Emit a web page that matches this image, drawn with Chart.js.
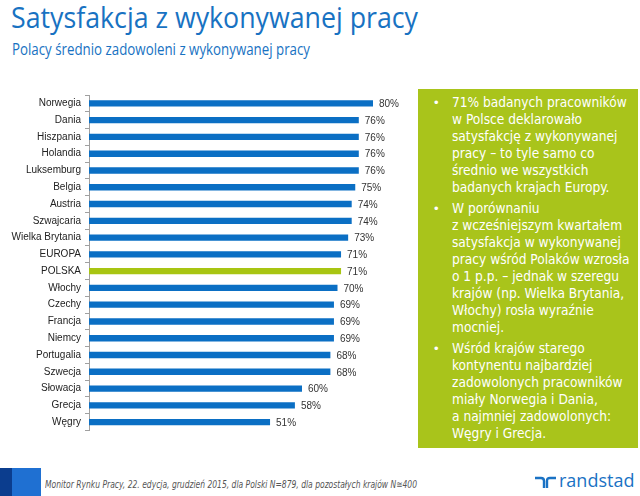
<!DOCTYPE html>
<html><head><meta charset="utf-8">
<script src="https://cdn.jsdelivr.net/npm/chart.js@4/dist/chart.umd.min.js"></script>
<style>
html,body{margin:0;padding:0}
body{width:640px;height:496px;background:#fff;position:relative;overflow:hidden;font-family:"Liberation Sans",Arial,sans-serif}
.abs{position:absolute;white-space:nowrap}
#title{left:11px;top:-4px;font-family:"Open Sans",sans-serif;font-size:30px;line-height:42px;color:#1872c2;transform-origin:0 0}
#sub{left:12px;top:38px;font-family:"Open Sans",sans-serif;font-size:16px;line-height:22px;color:#1872c2;transform-origin:0 0}
#box{left:418px;top:89px;width:220px;height:359px;background:#a9c41b}
.ln{position:absolute;left:452px;color:#fff;font-family:"DejaVu Sans Condensed","DejaVu Sans",sans-serif;font-size:13.6px;line-height:17px;white-space:nowrap;transform-origin:0 50%}
.bul{position:absolute;left:434px;color:#fff;font-size:13px;line-height:17px}
#chartwrap{position:absolute;left:0;top:85px;width:410px;height:360px}
#sq1{left:0;top:468px;width:12px;height:28px;background:#0b3d8e}
#sq2{left:12px;top:468px;width:29px;height:28px;background:#1f70d2}
#foot{left:45px;top:478px;font-family:"DejaVu Sans Condensed","DejaVu Sans",sans-serif;font-style:italic;font-size:10px;line-height:14px;color:#555;transform-origin:0 0}
#logo{left:535px;top:476px}
#brand{left:559px;top:467px;font-family:"Open Sans",sans-serif;font-size:18px;line-height:26px;color:#1a72c4}
</style></head>
<body>
<div id="title" class="abs">Satysfakcja z wykonywanej pracy</div>
<div id="sub" class="abs">Polacy średnio zadowoleni z wykonywanej pracy</div>
<div id="box" class="abs"></div>
<div id="chartwrap"><canvas id="c" width="410" height="360"></canvas></div>
<div id="sq1" class="abs"></div><div id="sq2" class="abs"></div>
<div id="foot" class="abs">Monitor Rynku Pracy, 22. edycja, grudzień 2015, dla Polski N=879, dla pozostałych krajów N≅400</div>
<svg id="logo" class="abs" width="22" height="12" viewBox="0 0 22 12"><path d="M0 2 H6 Q9 2 9 5 V12 M12 12 V5 Q12 2 15 2 H21" fill="none" stroke="#1a72c4" stroke-width="2.4"/></svg>
<div id="brand" class="abs">randstad</div>
<script>
const categories = ["Norwegia","Dania","Hiszpania","Holandia","Luksemburg","Belgia","Austria","Szwajcaria","Wielka Brytania","EUROPA","POLSKA","Włochy","Czechy","Francja","Niemcy","Portugalia","Szwecja","Słowacja","Grecja","Węgry"];
const values = [80,76,76,76,76,75,74,74,73,71,71,70,69,69,69,68,68,60,58,51];
const highlighted = "POLSKA";
const bullets = [
 ["71% badanych pracowników","w Polsce deklarowało","satysfakcję z wykonywanej","pracy – to tyle samo co","średnio we wszystkich","badanych krajach Europy."],
 ["W porównaniu","z wcześniejszym kwartałem","satysfakcja w wykonywanej","pracy wśród Polaków wzrosła","o 1 p.p. – jednak w szeregu","krajów (np. Wielka Brytania,","Włochy) rosła wyraźnie","mocniej."],
 ["Wśród krajów starego","kontynentu najbardziej","zadowolonych pracowników","miały Norwegia i Dania,","a najmniej zadowolonych:","Węgry i Grecja."]
];

let y = 94;
bullets.forEach(p => {
  const b = document.createElement('div'); b.className='bul'; b.textContent='•'; b.style.top=y+'px'; document.body.appendChild(b);
  p.forEach(t => {
    const d = document.createElement('div'); d.className='ln'; d.textContent=t; d.style.top=y+'px'; document.body.appendChild(d);
    y += 17;
  });
  y += 4;
});

function fitW(el, w){ const r = el.getBoundingClientRect().width; el.style.transform='scaleX('+(w/r)+')'; }
fitW(document.getElementById('title'), 407);
fitW(document.getElementById('sub'), 298);
fitW(document.getElementById('foot'), 372);

const barColors = categories.map(c => c === highlighted ? '#a8c512' : '#0b6fc4');

const valueLabels = {
  id:'valueLabels',
  afterDatasetsDraw(chart){
    const ctx = chart.ctx; const meta = chart.getDatasetMeta(0);
    ctx.save(); ctx.fillStyle='#333'; ctx.font='10px "Liberation Sans", Arial, sans-serif';
    ctx.textAlign='left'; ctx.textBaseline='middle';
    meta.data.forEach((bar,i)=>{ ctx.fillText(values[i]+'%', bar.x+6, bar.y+1); });
    ctx.restore();
  }
};

new Chart(document.getElementById('c'), {
  type:'bar',
  data:{ labels:categories, datasets:[{ data:values, backgroundColor:barColors, barPercentage:0.38, categoryPercentage:1 }] },
  options:{
    indexAxis:'y', responsive:false, animation:false,
    layout:{ padding:{ top:6.5, bottom:14.5, right:1.5, left:0 } },
    plugins:{ legend:{display:false}, tooltip:{enabled:false} },
    scales:{
      x:{ display:false, min:0, max:90 },
      y:{
        afterFit(s){ s.width = 89; },
        grid:{ display:true, drawOnChartArea:false, tickLength:4, color:'#a0a0a0', offset:true },
        border:{ display:true, color:'#a0a0a0' },
        ticks:{ color:'#222', font:{ family:'"Liberation Sans", Arial, sans-serif', size:10 }, padding:4 }
      }
    }
  },
  plugins:[valueLabels]
});
</script>
</body></html>
